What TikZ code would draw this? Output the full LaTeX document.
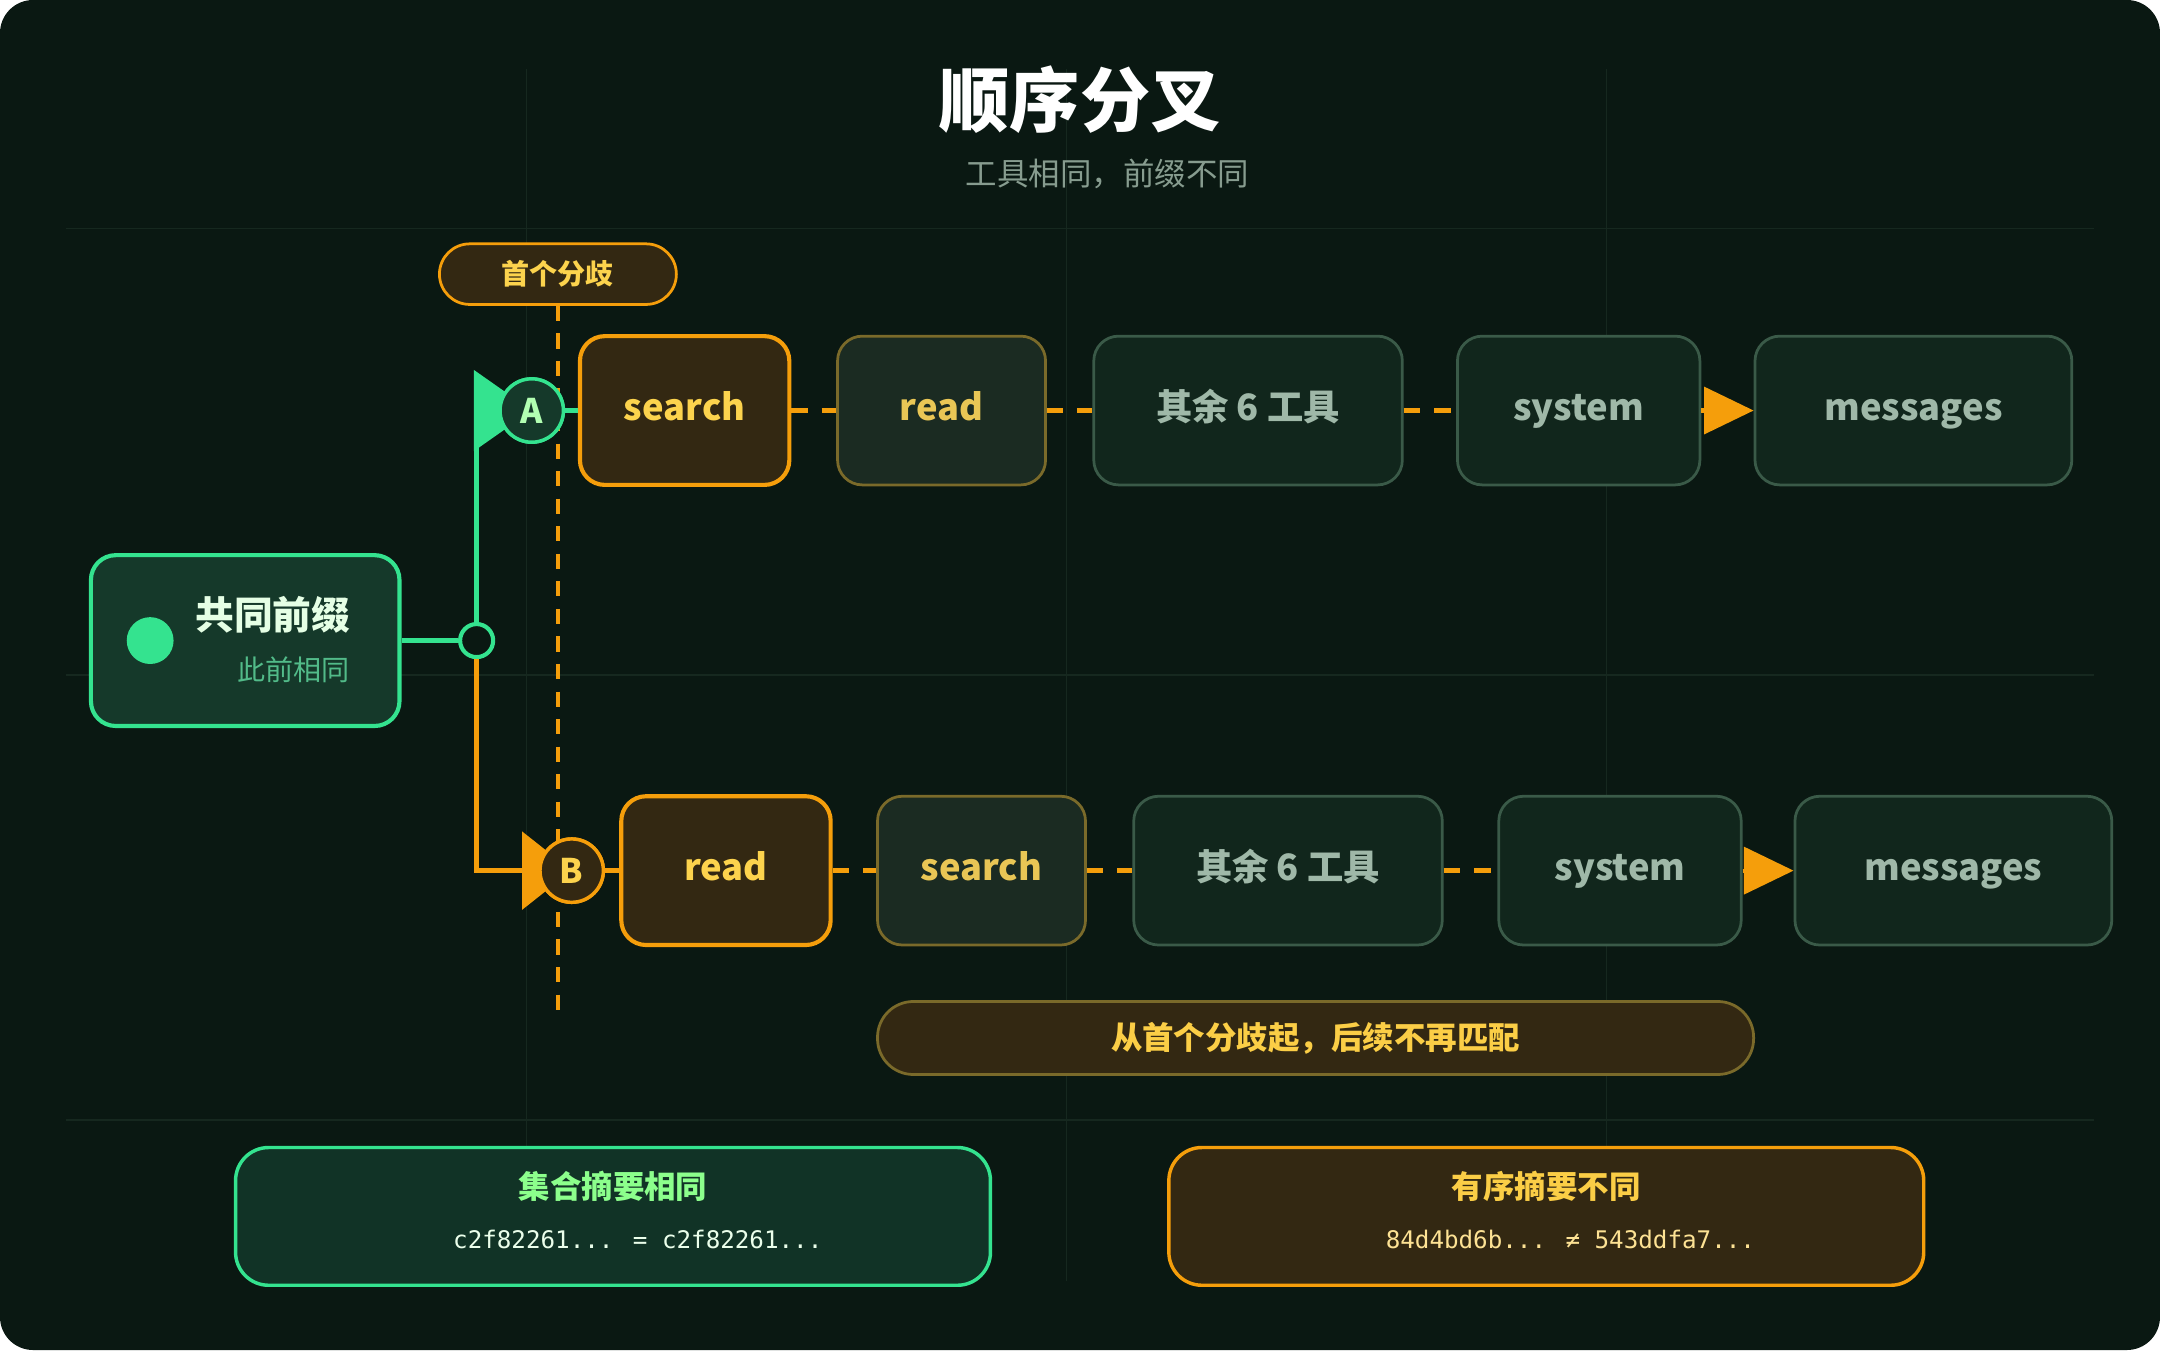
\documentclass[tikz,border=0pt]{standalone}
\usepackage{fontspec}
\setmainfont{Noto Sans CJK SC}
\newfontfamily\monofont{DejaVu Sans Mono}
\usetikzlibrary{arrows.meta,positioning}
\definecolor{bgdark}{HTML}{0A1812}
\definecolor{gridc}{HTML}{16281F}
\definecolor{grn}{HTML}{34E38F}
\definecolor{grnfill}{HTML}{15392A}
\definecolor{grndeep}{HTML}{113326}
\definecolor{org}{HTML}{F59E0B}
\definecolor{orgfill}{HTML}{332812}
\definecolor{orgtxt}{HTML}{FCD34D}
\definecolor{olive}{HTML}{7A6A2A}
\definecolor{midfill}{HTML}{1B2B22}
\definecolor{gfill}{HTML}{11261C}
\definecolor{gline}{HTML}{3A5A48}
\definecolor{gtxt}{HTML}{9FB8A8}
\tikzset{
  tool/.style={draw=gline, fill=gfill, line width=0.2mm, rounded corners=1.8mm, minimum height=10.8mm, text height=2mm, text depth=0.6mm, text=gtxt, font=\bfseries\fontsize{7.5}{9}\selectfont},
  hot/.style={tool, draw=org, fill=orgfill, line width=0.3mm, text=orgtxt, minimum width=15.2mm},
  warm/.style={tool, draw=olive, fill=midfill, text=orgtxt!85!gray, minimum width=15.1mm},
  link/.style={org, line width=0.4mm, dash pattern=on 1.2mm off 1mm},
  tag/.style={circle, minimum size=4.6mm, inner sep=0pt, line width=0.25mm, font=\bfseries\fontsize{7}{8}\selectfont},
  digest/.style={line width=0.25mm, rounded corners=2.4mm, minimum width=54.8mm, minimum height=10mm},
}
\begin{document}
\begin{tikzpicture}[x=0.1mm, y=-0.1mm]
\useasboundingbox (0,0) rectangle (1568,980);
\fill[white] (0,0) rectangle (1568,980);
\fill[bgdark, rounded corners=2.4mm] (0,0) rectangle (1568,980);

% grid
\foreach \x in {382,774,1166} \draw[gridc, line width=0.1mm] (\x,50) -- (\x,930);
\foreach \y in {166,490,813} \draw[gridc, line width=0.1mm] (48,\y) -- (1520,\y);

% title
\node[text=white, font=\bfseries\fontsize{14.5}{16}\selectfont] (title) at (784,72) {顺序分叉};
\node[text=gtxt!85!black, font=\fontsize{6.5}{8}\selectfont] (sub) at (804,126) {工具相同，前缀不同};

% divergence marker
\node[draw=org, fill=orgfill, line width=0.2mm, rounded corners=2.2mm, minimum width=17.2mm, minimum height=4.4mm, text=orgtxt, font=\bfseries\fontsize{5.8}{7}\selectfont] (first) at (405,199) {首个分歧};
\coordinate (dend) at (405,740);
\draw[org, line width=0.25mm, dash pattern=on 1.1mm off 0.9mm] (first.south) -- (dend);

% common prefix
\node[draw=grn, fill=grnfill, line width=0.3mm, rounded corners=1.8mm, minimum width=22.4mm, minimum height=12.4mm] (prefix) at (178,465) {};
\fill[grn] (109,465) circle (1.7mm);
\node[text=green!10, font=\bfseries\fontsize{8}{9}\selectfont] (ptitle) at (198,446) {共同前缀};
\node[text=grn!60!gray, font=\fontsize{5.8}{7}\selectfont] (psub) at (213,486) {此前相同};

\node[circle, draw=grn, fill=bgdark, line width=0.3mm, minimum size=2.4mm, inner sep=0pt] (jn) at (346,465) {};
\draw[grn, line width=0.4mm] (prefix.east) -- (jn.west);

% branch A
\node[tag, draw=grn, fill=grnfill, text=green!30] (A) at (386,298) {};
\draw[grn, line width=0.4mm, -{Triangle[length=4.2mm, width=5.8mm]}] (jn.north) |- (A.center);
\node[tag, draw=grn, fill=grnfill, text=green!30] at (A) {A};
\node[hot] (a1) at (497,298) {search};
\draw[grn, line width=0.4mm] (A.east) -- (a1.west);
\node[warm] (a2) at (683.5,298) {read};
\node[tool, minimum width=22.4mm] (a3) at (906,298) {其余 6 工具};
\node[tool, minimum width=17.6mm] (a4) at (1146,298) {system};
\node[tool, minimum width=23mm] (a5) at (1389,298) {messages};
\draw[link] (a1) -- (a2);
\draw[link] (a2) -- (a3);
\draw[link] (a3) -- (a4);
\draw[org, line width=0.3mm, -{Triangle[length=3.6mm, width=3.4mm]}] (a4.east) -- (a5.west);

% branch B
\node[tag, draw=org, fill=orgfill, text=orgtxt] (B) at (415,632) {};
\draw[org, line width=0.4mm, -{Triangle[length=3.6mm, width=5.6mm]}] (jn.south) |- (B.center);
\node[tag, draw=org, fill=orgfill, text=orgtxt] at (B) {B};
\node[hot] (b1) at (527,632) {read};
\draw[org, line width=0.4mm] (B.east) -- (b1.west);
\node[warm] (b2) at (712.5,632) {search};
\node[tool, minimum width=22.4mm] (b3) at (935,632) {其余 6 工具};
\node[tool, minimum width=17.6mm] (b4) at (1176,632) {system};
\node[tool, minimum width=23mm] (b5) at (1418,632) {messages};
\draw[link] (b1) -- (b2);
\draw[link] (b2) -- (b3);
\draw[link] (b3) -- (b4);
\draw[org, line width=0.3mm, -{Triangle[length=3.6mm, width=3.4mm]}] (b4.east) -- (b5.west);

% note
\node[draw=olive, fill=orgfill, line width=0.2mm, rounded corners=2.6mm, minimum width=63.6mm, minimum height=5.3mm, text=orgtxt!90!org, font=\bfseries\fontsize{6.5}{8}\selectfont] (note) at (955,753.5) {从首个分歧起，后续不再匹配};

% digests
\node[digest, draw=grn, fill=grndeep] (setd) at (445,883) {};
\node[text=green!45, font=\bfseries\fontsize{6.5}{8}\selectfont] (setT) at (445,861) {集合摘要相同};
\node[text=green!8, font=\monofont\fontsize{5}{6}\selectfont] (setV) at (463,900) {c2f82261... = c2f82261...};
\node[digest, draw=org, fill=orgfill] (seqd) at (1122.5,883) {};
\node[text=orgtxt!90!org, font=\bfseries\fontsize{6.5}{8}\selectfont] (seqT) at (1122.5,861) {有序摘要不同};
\node[text=yellow!50!orange!40, font=\monofont\fontsize{5}{6}\selectfont] (seqV) at (1140,900) {84d4bd6b... ≠ 543ddfa7...};

\end{tikzpicture}
\end{document}
